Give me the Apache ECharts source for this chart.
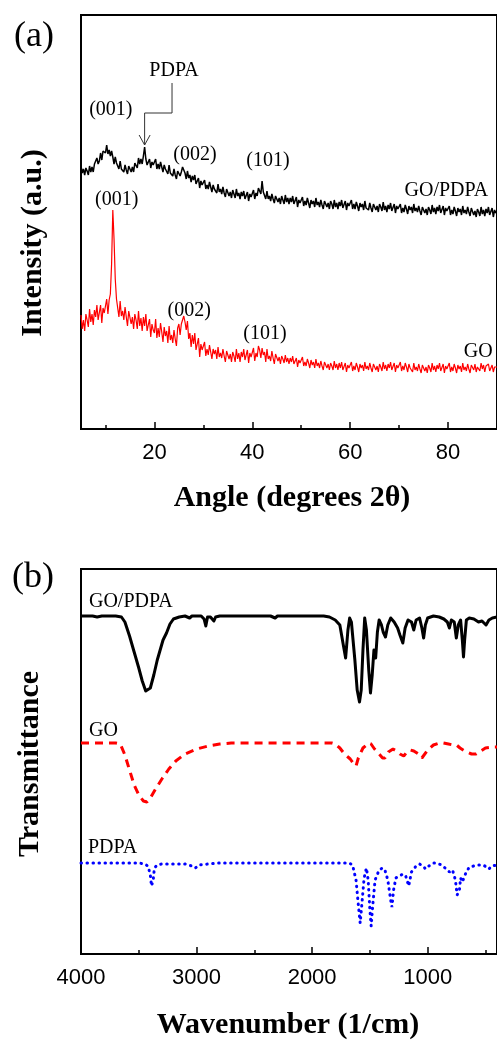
<!DOCTYPE html>
<html>
<head>
<meta charset="utf-8">
<script src="https://cdn.jsdelivr.net/npm/echarts@6.0.0/dist/echarts.min.js"></script>
<style>
  html, body { margin: 0; padding: 0; background: #fff; }
  #chart { width: 497px; height: 1041px; }
</style>
</head>
<body>
<div id="chart"></div>
<script>
// ---- (a) XRD patterns: intensity (a.u.) sampled every 0.25 deg from 5 to 90 deg 2θ ----
// one row = 5 degrees
const xrdStart = 5;
const xrdStep = 0.25;
const xrdGoPdpa = [
  263,256,260,254,261,258,254,263,257,262,257,265,263,271,265,268,276,269,278,276,
  276,284,275,279,273,278,272,265,272,266,268,260,268,260,262,257,264,259,255,263,
  264,257,262,257,266,264,261,271,265,270,265,273,282,270,264,265,270,261,267,264,
  263,270,260,265,260,267,262,257,264,260,262,255,264,256,258,253,260,254,250,258,
  259,253,257,262,260,256,250,258,251,254,247,253,249,254,245,245,251,241,248,244,
  243,249,240,244,240,247,242,237,244,240,242,236,245,237,240,235,242,236,232,240,
  241,233,237,231,239,235,231,240,233,236,230,237,233,238,230,231,237,228,235,232,
  231,239,230,236,233,241,238,235,248,237,238,230,238,230,233,228,235,230,226,233,
  234,227,231,225,233,229,225,234,227,231,225,231,227,233,225,226,232,222,229,226,
  225,232,223,228,224,231,226,221,229,225,228,222,231,224,227,222,229,224,220,228,
  229,222,226,220,228,225,220,229,222,226,220,227,223,229,221,222,228,219,226,223,
  222,229,220,225,220,227,223,218,226,222,225,219,228,221,223,219,226,221,217,225,
  226,219,223,217,225,222,218,227,219,223,217,224,220,226,218,219,225,216,223,220,
  219,225,216,221,217,224,220,215,223,219,222,216,225,218,221,217,223,218,214,222,
  223,216,220,214,222,219,215,224,217,221,215,222,218,224,216,217,223,214,221,218,
  217,223,214,219,215,222,218,213,221,217,220,214,223,216,219,215,222,217,213,221,
  222,214,218,212,220,217,213,222,215,219,213,220,216,222,214,215,221,212,219,216,
  218
];
const xrdGo = [
  114,100,109,98,115,109,102,120,107,115,104,119,112,124,109,111,124,106,121,116,
  115,130,115,129,135,165,219,190,150,130,128,112,128,113,118,109,122,112,103,118,
  119,105,112,100,115,109,100,118,103,111,98,112,103,115,98,100,110,92,105,99,
  96,110,91,101,92,106,97,87,102,93,98,86,103,89,94,86,99,90,83,101,
  105,94,105,105,113,107,99,108,90,96,82,94,85,96,79,80,91,72,85,79,
  77,87,73,80,74,84,77,70,80,75,79,70,82,72,76,71,80,73,67,78,
  80,70,75,67,77,73,67,80,70,76,67,77,72,80,69,70,79,66,76,72,
  70,81,68,76,72,83,79,71,81,74,77,67,80,70,73,68,78,71,65,75,
  75,68,72,65,73,70,66,74,67,71,65,71,67,73,65,66,71,62,69,66,
  65,72,63,67,63,70,66,61,69,64,67,61,70,63,66,61,68,63,59,67,
  68,61,65,59,66,63,59,68,61,65,59,66,61,67,59,60,66,57,64,61,
  60,67,58,63,59,66,62,57,65,61,64,58,67,60,63,59,66,61,57,65,
  66,59,63,57,65,62,58,67,60,64,58,65,61,67,59,60,66,57,64,61,
  60,67,58,63,59,66,62,57,65,61,63,57,66,59,62,58,65,60,56,64,
  65,58,62,56,64,61,57,66,59,63,57,64,60,66,58,59,65,56,63,60,
  59,66,57,62,58,65,61,56,64,60,63,57,66,59,62,58,65,60,56,64,
  63,59,65,57,62,60,58,66,60,64,57,63,61,65,58,60,64,57,62,61,
  62
];
const xrdTicks = [20, 40, 60, 80];
const xrdMinorTicks = [10, 30, 50, 70];

// ---- (b) FTIR spectra: [wavenumber (1/cm), offset transmittance] ----
const ftirGoPdpa = [
  [4000,338],[3900,338],[3860,337],[3820,338],[3700,338],[3650,337],[3620,332],
  [3580,318],[3540,302],[3500,286],[3470,273],[3440,263],[3425,262],[3400,266],
  [3370,279],[3340,294],[3310,306],[3290,314],[3260,321],[3230,330],[3200,335],
  [3150,337],[3100,338],[3060,336],[3040,338],[2960,338],[2935,335],[2920,328],
  [2905,337],[2880,337],[2850,333],[2835,337],[2800,338],[2360,338],[2345,336],
  [2320,336],[2300,338],[1900,338],[1850,337],[1800,334],[1760,329],[1730,309],
  [1710,296],[1700,298],[1690,324],[1675,336],[1660,332],[1630,294],[1610,264],
  [1590,252],[1575,264],[1560,304],[1545,336],[1530,324],[1510,284],[1495,261],
  [1480,279],[1465,304],[1450,296],[1435,322],[1420,334],[1400,329],[1385,322],
  [1365,317],[1345,329],[1320,336],[1290,332],[1260,326],[1240,319],[1215,311],
  [1195,326],[1170,334],[1140,332],[1120,324],[1100,334],[1070,336],[1050,326],
  [1035,316],[1020,329],[1000,336],[950,338],[900,337],[860,335],[830,332],
  [812,326],[795,334],[770,332],[752,316],[735,329],[715,334],[700,314],
  [690,297],[680,314],[665,334],[640,336],[600,335],[560,332],[530,333],
  [495,329],[470,334],[440,336],[400,337]
];
const ftirGo = [
  [4000,211],[3700,211],[3660,210],[3620,199],[3580,184],[3540,169],[3500,159],
  [3460,153],[3430,152],[3400,156],[3360,164],[3300,175],[3240,185],[3180,193],
  [3100,200],[3000,205],[2900,208],[2800,210],[2700,211],[1830,211],[1800,210],
  [1760,206],[1720,200],[1690,197],[1670,195],[1640,190],[1620,188],[1600,196],
  [1560,206],[1510,211],[1490,210],[1460,205],[1420,200],[1390,196],[1370,196],
  [1340,202],[1300,205],[1270,203],[1240,200],[1207,198],[1180,202],[1150,204],
  [1120,203],[1080,200],[1050,196],[1035,195],[1000,204],[950,209],[900,211],
  [864,211],[820,210],[780,209],[750,209],[720,206],[680,203],[620,200],
  [581,200],[540,203],[500,206],[435,207],[400,207]
];
const ftirPdpa = [
  [4000,91],[3500,91],[3450,90],[3420,88],[3400,79],[3390,68],[3383,66],
  [3375,74],[3365,86],[3340,89],[3300,90],[3200,90],[3100,90],[3040,88],
  [3010,86],[2980,89],[2900,90],[2800,91],[2000,91],[1680,91],[1650,89],
  [1620,74],[1600,49],[1584,31],[1570,49],[1550,76],[1530,86],[1515,74],
  [1500,44],[1489,28],[1475,49],[1455,74],[1420,84],[1390,86],[1370,84],
  [1345,74],[1320,54],[1309,47],[1295,64],[1275,76],[1250,78],[1210,80],
  [1190,78],[1164,68],[1140,82],[1100,88],[1070,90],[1040,88],[1018,85],
  [990,88],[950,91],[924,91],[880,89],[850,86],[812,82],[785,84],[760,74],
  [745,59],[735,57],[725,64],[715,76],[700,72],[684,74],[670,81],[640,87],
  [600,88],[560,89],[521,89],[490,87],[470,85],[445,88],[400,89]
];
const ftirTicks = [1000, 2000, 3000, 4000];
const ftirMinorTicks = [500, 1500, 2500, 3500];

// ---- annotations, positioned in data units ----
const xrdPeakLabels = [
  { text: '(001)', at: [11.1, 319] },
  { text: '(002)', at: [28.3, 274] },
  { text: '(101)', at: [43.2, 268] },
  { text: '(001)', at: [12.3, 229] },
  { text: '(002)', at: [27.1, 118] },
  { text: '(101)', at: [42.6, 95] }
];
const xrdCurveNames = [
  { text: 'GO/PDPA', at: [71.1, 238] },
  { text: 'GO', at: [83.2, 77] }
];
const pdpaMarker = { text: 'PDPA', label: [24.0, 358], path: [[23.6, 346], [23.6, 316], [18, 316], [18, 284]] };
const ftirCurveNames = [
  { text: 'GO/PDPA', at: [3931, 352] },
  { text: 'GO', at: [3931, 223] },
  { text: 'PDPA', at: [3940, 106] }
];

const SERIF = 'Liberation Serif';
const SANS = 'Liberation Sans';

const xrdPairs = vals => vals.map((v, i) => [xrdStart + i * xrdStep, v]);

function mainX(gridIndex, min, max, ticks, inverse) {
  return {
    type: 'value', gridIndex, min, max, inverse, position: 'bottom',
    axisLine: { show: true, onZero: false, lineStyle: { color: '#000', width: 2 } },
    axisTick: { show: true, inside: true, length: 7, customValues: ticks, lineStyle: { color: '#000', width: 1.5 } },
    axisLabel: { show: true, customValues: ticks, margin: 13, color: '#000', fontFamily: SANS, fontSize: 22, formatter: v => String(v) },
    splitLine: { show: false }
  };
}
function minorX(gridIndex, min, max, ticks, inverse) {
  return {
    type: 'value', gridIndex, min, max, inverse, position: 'bottom',
    axisLine: { show: false },
    axisTick: { show: true, inside: true, length: 4, customValues: ticks, lineStyle: { color: '#000', width: 1.5 } },
    axisLabel: { show: false },
    splitLine: { show: false }
  };
}
function plainY(gridIndex, max) {
  return {
    type: 'value', gridIndex, min: 0, max,
    axisLine: { show: true, onZero: false, lineStyle: { color: '#000', width: 2 } },
    axisTick: { show: false }, axisLabel: { show: false }, splitLine: { show: false }
  };
}

const chart = echarts.init(document.getElementById('chart'), null, { renderer: 'canvas' });

chart.setOption({
  animation: false,
  backgroundColor: '#fff',
  grid: [
    { left: 81, top: 15, width: 421, height: 414, show: true, borderColor: '#000', borderWidth: 2, backgroundColor: 'transparent' },
    { left: 81, top: 569, width: 420, height: 385, show: true, borderColor: '#000', borderWidth: 2, backgroundColor: 'transparent' }
  ],
  xAxis: [
    mainX(0, 5, 90, xrdTicks, false),
    minorX(0, 5, 90, xrdMinorTicks, false),
    mainX(1, 400, 4000, ftirTicks, true),
    minorX(1, 400, 4000, ftirMinorTicks, true)
  ],
  yAxis: [plainY(0, 414), plainY(1, 385)],
  series: [
    { name: 'GO/PDPA', type: 'line', xAxisIndex: 0, yAxisIndex: 0, data: xrdPairs(xrdGoPdpa),
      symbol: 'none', silent: true, lineStyle: { color: '#000', width: 1.5 } },
    { name: 'GO', type: 'line', xAxisIndex: 0, yAxisIndex: 0, data: xrdPairs(xrdGo),
      symbol: 'none', silent: true, lineStyle: { color: '#ff0000', width: 1.2 } },
    { name: 'GO/PDPA', type: 'line', xAxisIndex: 2, yAxisIndex: 1, data: ftirGoPdpa,
      symbol: 'none', silent: true, lineStyle: { color: '#000', width: 3, join: 'round' } },
    { name: 'GO', type: 'line', xAxisIndex: 2, yAxisIndex: 1, data: ftirGo,
      symbol: 'none', silent: true, lineStyle: { color: '#ff0000', width: 3, type: [8, 6] } },
    { name: 'PDPA', type: 'line', xAxisIndex: 2, yAxisIndex: 1, data: ftirPdpa,
      symbol: 'none', silent: true, lineStyle: { color: '#0000ff', width: 3, type: [0.5, 5.5], cap: 'round' } }
  ]
});

// Text and arrow overlays, converted from data units to pixels
const px0 = p => chart.convertToPixel({ xAxisIndex: 0, yAxisIndex: 0 }, p);
const px1 = p => chart.convertToPixel({ xAxisIndex: 2, yAxisIndex: 1 }, p);

function label(text, p, size, align) {
  return {
    type: 'text', x: p[0], y: p[1], silent: true,
    style: { text, fill: '#000', fontFamily: SERIF, fontSize: size, align: align || 'center', verticalAlign: 'middle' }
  };
}
function title(text, x, y, rotation) {
  return {
    type: 'text', x, y, rotation: rotation || 0, silent: true,
    style: { text, fill: '#000', fontFamily: SERIF, fontWeight: 'bold', fontSize: 30, align: 'center', verticalAlign: 'middle' }
  };
}

const graphics = [];
xrdPeakLabels.forEach(l => graphics.push(label(l.text, px0(l.at), 20)));
xrdCurveNames.forEach(l => graphics.push(label(l.text, px0(l.at), 20, 'left')));
graphics.push(label(pdpaMarker.text, px0(pdpaMarker.label), 20));
const arrowPts = pdpaMarker.path.map(px0);
graphics.push({ type: 'polyline', silent: true, shape: { points: arrowPts },
  style: { stroke: '#333', lineWidth: 1, fill: null } });
const tip = arrowPts[arrowPts.length - 1];
graphics.push({ type: 'polyline', silent: true,
  shape: { points: [[tip[0] - 5.5, tip[1] - 10], tip, [tip[0] + 5.5, tip[1] - 10]] },
  style: { stroke: '#333', lineWidth: 1, fill: null } });
ftirCurveNames.forEach(l => graphics.push(label(l.text, px1(l.at), 20, 'left')));

graphics.push(label('(a)', [34, 37], 36));
graphics.push(label('(b)', [33, 578], 36));
graphics.push(title('Intensity (a.u.)', 33, 243, Math.PI / 2));
graphics.push(title('Transmittance', 30, 764, Math.PI / 2));
graphics.push(title('Angle (degrees 2\u03b8)', 292, 498));
graphics.push(title('Wavenumber (1/cm)', 288, 1025));

chart.setOption({ graphic: graphics });
</script>
</body>
</html>
